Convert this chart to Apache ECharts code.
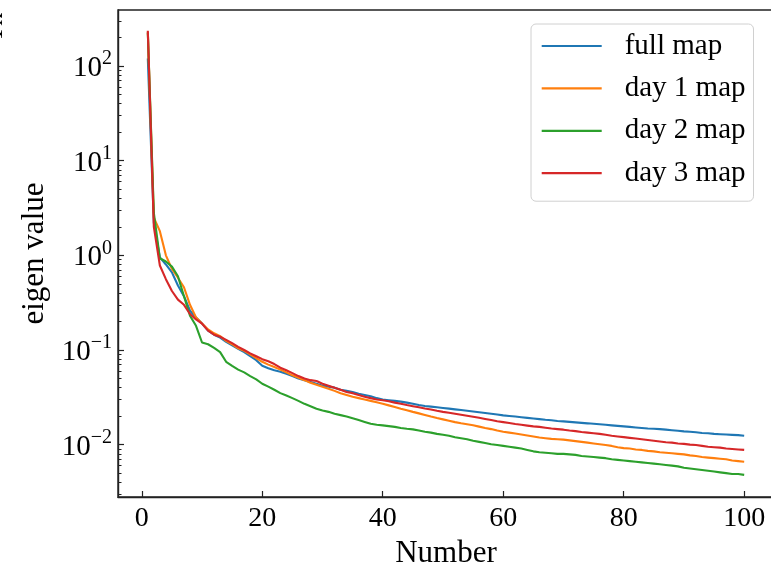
<!DOCTYPE html>
<html>
<head>
<meta charset="utf-8">
<script src="https://cdn.jsdelivr.net/npm/echarts@6/dist/echarts.min.js"></script>
<style>
html,body{margin:0;padding:0;background:#fff;}
#chart{width:771px;height:563px;}
</style>
</head>
<body>
<div id="chart"></div>
<script>
const numbers = [1,2,3,4,5,6,7,8,9,10,11,12,13,14,15,16,17,18,19,20,21,22,23,24,25,26,27,28,29,30,31,32,33,34,35,36,37,38,39,40,41,42,43,44,45,46,47,48,49,50,51,52,53,54,55,56,57,58,59,60,61,62,63,64,65,66,67,68,69,70,71,72,73,74,75,76,77,78,79,80,81,82,83,84,85,86,87,88,89,90,91,92,93,94,95,96,97,98,99,100];

const fullMap = [120,2.2,0.95,0.80,0.66,0.48,0.37,0.26,0.22,0.19,0.16,0.145,0.135,0.122,0.112,0.103,0.095,0.086,0.078,0.068,0.064,0.061,0.059,0.056,0.053,0.050,0.048,0.046,0.044,0.042,0.041,0.040,0.038,0.037,0.036,0.0345,0.0335,0.0325,0.031,0.030,0.0295,0.029,0.0285,0.0278,0.027,0.0262,0.0256,0.0252,0.0248,0.0244,0.024,0.0236,0.0232,0.0228,0.0224,0.022,0.0216,0.0212,0.0208,0.0204,0.0201,0.0198,0.0195,0.0192,0.0189,0.0186,0.0183,0.0181,0.0178,0.0176,0.0174,0.0172,0.017,0.0168,0.0166,0.0164,0.0162,0.016,0.0158,0.0156,0.0154,0.0152,0.015,0.0148,0.0147,0.0146,0.0144,0.0142,0.014,0.0138,0.0137,0.0135,0.0133,0.0132,0.013,0.0129,0.0128,0.0127,0.0126,0.0124];

const day1Map = [230,2.5,1.8,1.0,0.72,0.58,0.46,0.30,0.22,0.19,0.165,0.15,0.14,0.125,0.115,0.104,0.098,0.090,0.082,0.075,0.070,0.066,0.062,0.058,0.054,0.051,0.048,0.045,0.043,0.041,0.039,0.037,0.035,0.0335,0.032,0.031,0.030,0.029,0.028,0.027,0.026,0.025,0.024,0.0231,0.0222,0.0214,0.0206,0.0198,0.0191,0.0185,0.0179,0.0173,0.0168,0.0164,0.016,0.0155,0.015,0.0146,0.0141,0.0137,0.0134,0.0131,0.0128,0.0125,0.0122,0.0119,0.0117,0.0115,0.0114,0.0113,0.0111,0.0109,0.0107,0.0105,0.0103,0.0101,0.0099,0.0097,0.0094,0.0092,0.0091,0.0089,0.0088,0.0086,0.0085,0.0083,0.0082,0.0081,0.008,0.0079,0.0077,0.0076,0.0074,0.0073,0.0072,0.0071,0.0070,0.0068,0.0067,0.0066];

const day2Map = [225,2.8,0.93,0.86,0.76,0.60,0.37,0.23,0.18,0.12,0.115,0.105,0.095,0.075,0.068,0.062,0.058,0.053,0.049,0.044,0.041,0.038,0.035,0.033,0.031,0.029,0.027,0.0255,0.024,0.023,0.0222,0.0212,0.0205,0.0198,0.019,0.0182,0.0174,0.0166,0.0162,0.016,0.0157,0.0154,0.015,0.0147,0.0145,0.0141,0.0137,0.0134,0.013,0.0127,0.0124,0.012,0.0117,0.0114,0.011,0.0107,0.0104,0.0101,0.0099,0.0097,0.0095,0.0093,0.0091,0.0088,0.0085,0.0083,0.0082,0.0081,0.0080,0.0080,0.0079,0.0078,0.0076,0.0075,0.0074,0.0073,0.0072,0.0070,0.0069,0.0068,0.0067,0.0066,0.0065,0.0064,0.0063,0.0062,0.0061,0.0060,0.0059,0.0057,0.0056,0.0055,0.0054,0.0053,0.0052,0.0051,0.0050,0.0049,0.0049,0.0048];

const day3Map = [235,2.0,0.78,0.56,0.42,0.34,0.30,0.24,0.21,0.19,0.16,0.145,0.138,0.128,0.118,0.108,0.10,0.092,0.086,0.080,0.076,0.071,0.065,0.061,0.057,0.053,0.050,0.048,0.047,0.044,0.042,0.040,0.038,0.036,0.035,0.0335,0.032,0.031,0.030,0.0295,0.0288,0.0278,0.027,0.0262,0.0255,0.0248,0.0241,0.0235,0.0228,0.0222,0.0217,0.0212,0.0207,0.0202,0.0197,0.0192,0.0187,0.0182,0.0177,0.0173,0.0169,0.0165,0.0162,0.0159,0.0156,0.0154,0.0151,0.0148,0.0146,0.0144,0.0141,0.0139,0.0136,0.0134,0.0132,0.0130,0.0127,0.0124,0.0122,0.0120,0.0118,0.0116,0.0114,0.0112,0.0110,0.0108,0.0106,0.0105,0.0103,0.0102,0.0100,0.0099,0.0097,0.0095,0.0094,0.0093,0.0091,0.0090,0.0089,0.0088];

const seriesNames = ['full map','day 1 map','day 2 map','day 3 map'];
const seriesColors = ['#1f77b4','#ff7f0e','#2ca02c','#d62728'];
const xTicks = [0,20,40,60,80,100];
const yMajorTicks = [0.01,0.1,1,10,100];
const yMinorTicks = [0.003,0.004,0.005,0.006,0.007,0.008,0.009,0.02,0.03,0.04,0.05,0.06,0.07,0.08,0.09,0.2,0.3,0.4,0.5,0.6,0.7,0.8,0.9,2,3,4,5,6,7,8,9,20,30,40,50,60,70,80,90,200,300];

const FONT = "'Liberation Serif','Times New Roman',serif";
const allSeries = [fullMap, day1Map, day2Map, day3Map];

const chart = echarts.init(document.getElementById('chart'), null, {renderer:'canvas'});
const option = {
  animation: false,
  backgroundColor: '#fff',
  textStyle: {fontFamily: FONT},
  grid: {left:118, top:10, width:656, height:487, show:true, borderColor:'#222', borderWidth:1.4, backgroundColor:'transparent', containLabel:false, outerBoundsMode:'none'},
  legend: {
    orient: 'vertical', left: 531, top: 24,
    data: seriesNames,
    icon: 'rect', itemWidth: 60, itemHeight: 2.2, itemGap: 10.4,
    padding: [6, 8, 12, 10.7],
    backgroundColor: '#fff', borderColor: '#d0d0d0', borderWidth: 1, borderRadius: 5,
    textStyle: {fontFamily: FONT, fontSize: 29, color: '#000', lineHeight: 32, padding: [0,0,0,18]}
  },
  xAxis: {
    type: 'value', min: -3.95, max: 104.95,
    name: 'Number', nameLocation: 'middle', nameGap: 37,
    nameTextStyle: {fontFamily: FONT, fontSize: 31, color: '#000'},
    axisLine: {show: true, onZero: false, lineStyle: {color: '#222', width: 1.4}},
    axisTick: {show: true, inside: true, length: 6, customValues: xTicks, lineStyle: {color: '#222', width: 1.2}},
    axisLabel: {customValues: xTicks, fontFamily: FONT, fontSize: 28, color: '#000', margin: 8},
    splitLine: {show: false}
  },
  yAxis: [{
    type: 'log', logBase: 10, min: 0.0028, max: 390,
    name: 'eigen value', nameLocation: 'middle', nameGap: 67,
    nameTextStyle: {fontFamily: FONT, fontSize: 31, color: '#000'},
    axisLine: {show: true, onZero: false, lineStyle: {color: '#222', width: 1.4}},
    axisTick: {show: true, inside: true, length: 6, customValues: yMajorTicks, lineStyle: {color: '#222', width: 1.2}},
    axisLabel: {
      customValues: yMajorTicks, margin: 6,
      formatter: function (v) {
        const e = Math.round(Math.log10(v));
        return '{b|10}{s|' + (e < 0 ? '\u2212' + (-e) : e) + '}';
      },
      rich: {
        b: {fontFamily: FONT, fontSize: 29, color: '#000', lineHeight: 34, verticalAlign: 'bottom'},
        s: {fontFamily: FONT, fontSize: 20, color: '#000', lineHeight: 34, verticalAlign: 'top'}
      }
    },
    splitLine: {show: false}
  }, {
    type: 'log', logBase: 10, min: 0.0028, max: 390, position: 'left',
    axisLine: {show: false, onZero: false},
    axisTick: {show: true, inside: true, length: 3.5, customValues: yMinorTicks, lineStyle: {color: '#222', width: 1}},
    axisLabel: {show: false},
    splitLine: {show: false}
  }],
  graphic: [{
    type: 'text', x: 8, y: 42, rotation: Math.PI / 2,
    style: {text: 'Tk', fontFamily: FONT, fontSize: 26, fill: '#000', textAlign: 'left', textVerticalAlign: 'bottom'}
  }],
  series: allSeries.map(function (vals, i) {
    return {
      name: seriesNames[i], type: 'line', yAxisIndex: 0,
      data: vals.map(function (v, j) { return [numbers[j], v]; }),
      showSymbol: false, symbol: 'none',
      lineStyle: {color: seriesColors[i], width: 2.1},
      itemStyle: {color: seriesColors[i]}
    };
  })
};
chart.setOption(option);
</script>
</body>
</html>
